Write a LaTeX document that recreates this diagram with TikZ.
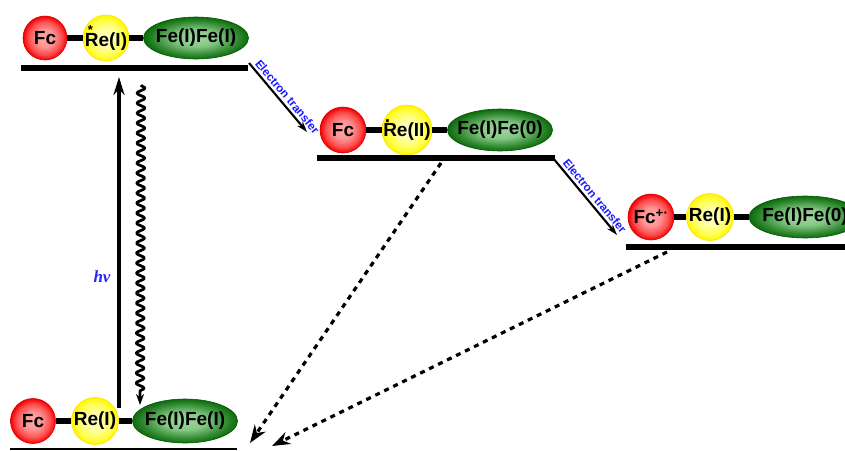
\documentclass[tikz,border=0pt]{standalone}
\usepackage{fontspec}
\setmainfont{Liberation Sans}
\newfontfamily\serifhv{Liberation Serif}
\usetikzlibrary{shapes.geometric,arrows.meta,decorations.pathmorphing}
\pgfdeclareradialshading{redball}{\pgfpoint{0bp}{0bp}}{rgb(0bp)=(1,0.66,0.66); rgb(10bp)=(1,0.58,0.58); rgb(19bp)=(0.99,0.3,0.3); rgb(25bp)=(0.95,0,0); rgb(50bp)=(0.95,0,0)}
\pgfdeclareradialshading{yellowball}{\pgfpoint{0bp}{0bp}}{rgb(0bp)=(1,1,0.78); rgb(10bp)=(1,1,0.62); rgb(19bp)=(1,1,0.3); rgb(25bp)=(1,0.96,0); rgb(50bp)=(1,0.96,0)}
\pgfdeclareradialshading{greenball}{\pgfpoint{0bp}{0bp}}{rgb(0bp)=(0.62,0.84,0.62); rgb(10bp)=(0.52,0.78,0.52); rgb(19bp)=(0.22,0.56,0.22); rgb(25bp)=(0.05,0.42,0.05); rgb(50bp)=(0.05,0.42,0.05)}
\newcommand{\starR}{\makebox[0pt][l]{\hspace{3pt}\raisebox{11.5pt}{\fontsize{13}{13}\selectfont *}}R}
\newcommand{\dotR}{\makebox[0pt][l]{\hspace{1.5pt}\raisebox{14pt}{.}}R}
\newcommand{\zw}[1]{\makebox[0pt]{#1}}
\tikzset{
  txt/.style={font=\fontsize{19}{21}\selectfont\bfseries, text=black},
  ball/.style={circle, minimum size=#1, inner sep=0pt, txt},
  fcball/.style={ball=44pt, shading=redball, draw=red!85!black, line width=0.6pt},
  reball/.style={ball=#1, shading=yellowball, draw=yellow!85!orange, line width=0.6pt},
  feball/.style={ellipse, minimum width=#1, minimum height=42pt, inner sep=0pt, shading=greenball, draw=green!35!black, line width=0.6pt, txt},
  bond/.style={line width=6.5pt},
  level/.style={line width=5.5pt},
  et/.style={line width=2.1pt, -{Stealth[length=11pt,width=7pt]}},
  etlabel/.style={font=\fontsize{11.5}{11.5}\selectfont\bfseries, text=blue!90!white, sloped, above, inner sep=2.5pt},
  dasharrow/.style={line width=3.2pt, dash pattern=on 5pt off 5pt, -{Stealth[length=18pt,width=13pt]}},
}
\begin{document}
\begin{tikzpicture}[x=1pt,y=-1pt]
\useasboundingbox (0,0) rectangle (845,450);
% top group
\node[fcball] (fc1) at (45,38) {\zw{Fc}};
\node[reball=46pt] (re1) at (106,38) {\zw{\starR e(I)}};
\node[feball=105pt] (fe1) at (196,38) {\zw{Fe(I)Fe(I)}};
\draw[bond] (fc1) -- (re1);
\draw[bond] (re1) -- (fe1);
\coordinate (l1a) at (21,68); \coordinate (l1b) at (248,68);
\draw[level] (l1a) -- (l1b);
% middle group
\node[fcball, minimum size=46pt] (fc2) at (343,130) {\zw{Fc}};
\node[reball=50pt] (re2) at (407,130) {\zw{\dotR e(II)}};
\node[feball=105pt] (fe2) at (500,130) {\zw{Fe(I)Fe(0)}};
\draw[bond] (fc2) -- (re2);
\draw[bond] (re2) -- (fe2);
\coordinate (l2a) at (317,158); \coordinate (l2b) at (555,158);
\draw[level] (l2a) -- (l2b);
% right group
\node[fcball, minimum size=46pt] (fc3) at (651,217) {\zw{Fc\textsuperscript{+\textperiodcentered}}};
\node[reball=47pt] (re3) at (710,217) {\zw{Re(I)}};
\node[feball=112pt] (fe3) at (805,217) {\zw{Fe(I)Fe(0)}};
\draw[bond] (fc3) -- (re3);
\draw[bond] (re3) -- (fe3);
\coordinate (l3a) at (626,247); \coordinate (l3b) at (850,247);
\draw[level] (l3a) -- (l3b);
% bottom group
\node[fcball, minimum size=45pt] (fc4) at (33,421) {\zw{Fc}};
\node[reball=47pt] (re4) at (95,421) {\zw{Re(I)}};
\node[feball=105pt, minimum height=44pt] (fe4) at (185,421) {\zw{Fe(I)Fe(I)}};
\draw[bond] (fc4) -- (re4);
\draw[bond] (re4) -- (fe4);
\coordinate (l4a) at (10,449); \coordinate (l4b) at (237,449);
\draw[line width=2.5pt] (l4a) -- (l4b);
% excitation
\coordinate (hvs) at (119,408); \coordinate (hve) at (119,77);
\draw[line width=3.2pt, -{Stealth[length=18pt,width=11pt]}] (hvs) -- (hve);
\node[font=\serifhv\fontsize{17}{17}\selectfont\bfseries\itshape, text=blue!85!white] (hv) at (102,277) {hv};
\coordinate (ws) at (141,85); \coordinate (we) at (140,405);
\draw[line width=2.8pt, line join=round, decorate, decoration={snake, segment length=10pt, amplitude=4pt, post length=9pt}, -{Stealth[length=11pt,width=8pt]}] (ws) -- (we);
% electron transfers
\coordinate (e1s) at (249,63); \coordinate (e1e) at (307,132);
\draw[et] (e1s) -- node[etlabel, pos=0.56] {Electron transfer} (e1e);
\coordinate (e2s) at (553,158); \coordinate (e2e) at (617,235);
\draw[et] (e2s) -- node[etlabel, pos=0.56] {Electron transfer} (e2e);
% dashed returns
\coordinate (d1s) at (441,163); \coordinate (d1e) at (250,443);
\draw[dasharrow] (d1s) -- (d1e);
\coordinate (d2s) at (667,252); \coordinate (d2e) at (272,446);
\draw[dasharrow] (d2s) -- (d2e);
\end{tikzpicture}
\end{document}
